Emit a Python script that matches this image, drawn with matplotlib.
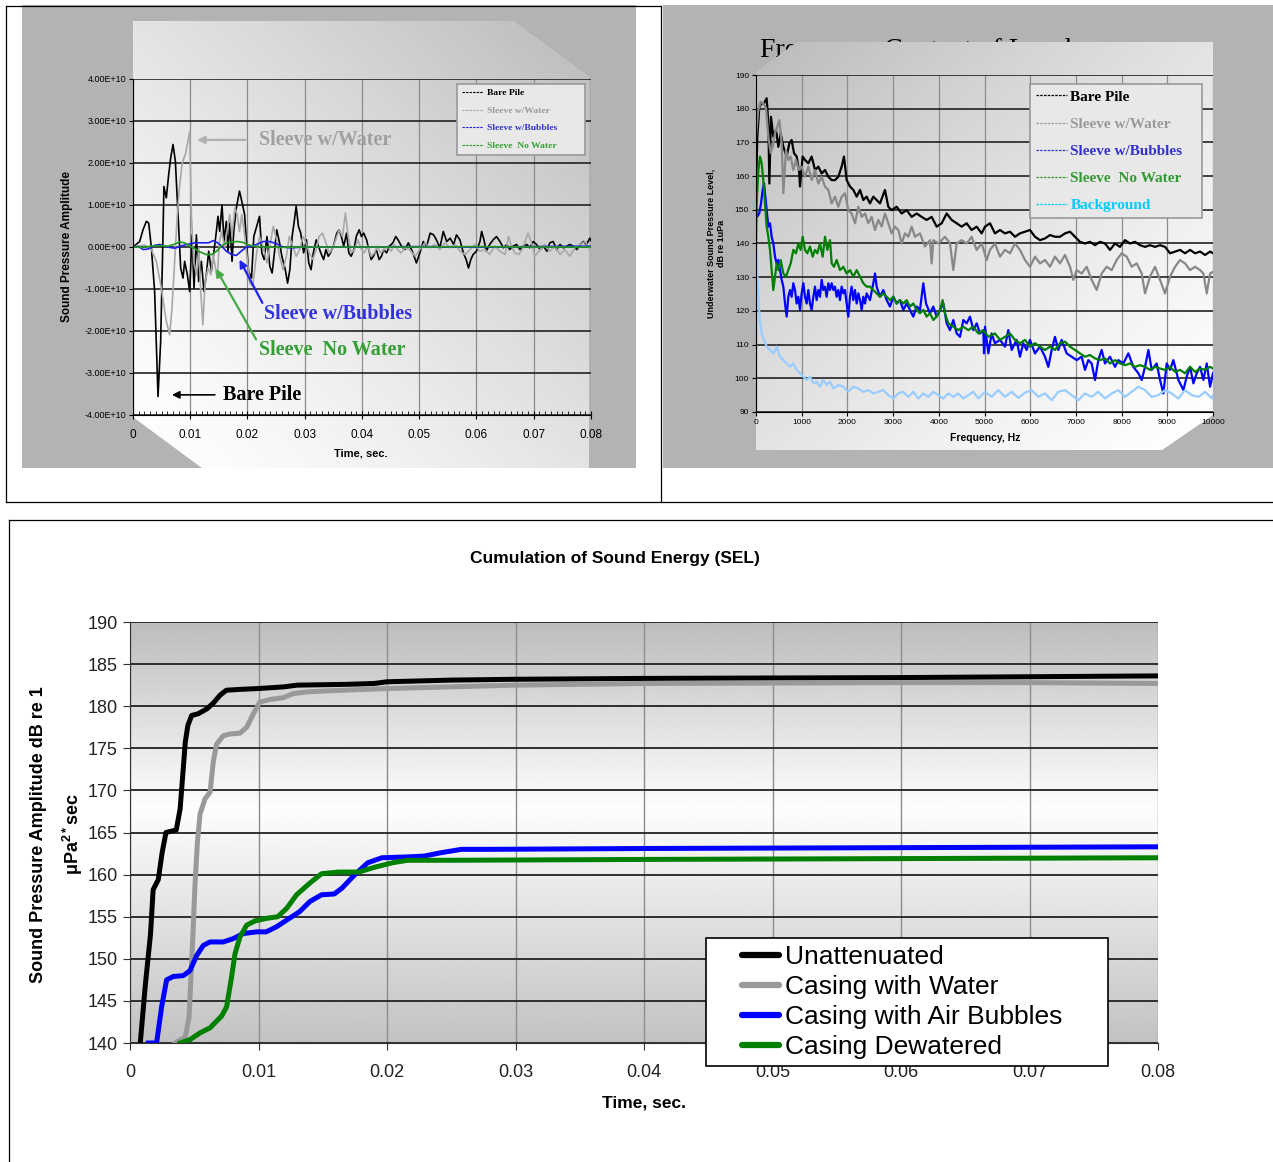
import numpy as np
import matplotlib.pyplot as plt
from matplotlib.patches import Polygon, Rectangle
from matplotlib.lines import Line2D
from matplotlib.legend_handler import HandlerLine2D
from matplotlib.ticker import FuncFormatter, MultipleLocator

plt.rcParams['font.family'] = ['Liberation Sans', 'DejaVu Sans']
plt.rcParams['mathtext.fontset'] = 'custom'
plt.rcParams['mathtext.bf'] = 'Liberation Sans:bold'
plt.rcParams['mathtext.rm'] = 'Liberation Sans'

W, H = 1273, 1162

# ---------------- top left: pressure time history (ms, x1E10) ----------------
sig_names = ['Bare Pile', 'Sleeve w/Water', 'Sleeve w/Bubbles', 'Sleeve  No Water']
sig_colors = ['#000000', '#a8a8a8', '#2020ee', '#229922']
sig_text_colors = ['#000000', '#999999', '#3333cc', '#33a033']

bare_t = [0, 1.16, 1.75, 2.33, 2.74, 3.2, 3.78, 4.37, 4.83, 5.24, 5.4, 5.82, 6.23, 6.58, 6.99, 7.4,
          7.86, 8.33, 8.73, 9.02, 9.49, 9.9, 10.3, 10.66, 11.07, 11.47, 11.94, 12.4, 12.81, 13.22,
          13.69, 14.15, 14.56, 14.85, 15.14, 15.55, 15.9, 16.3, 16.6, 16.9, 17.3, 17.6, 18.05, 18.6,
          19.0, 19.5, 19.8, 20.2, 20.7, 21.1, 21.6, 22.1, 22.5, 22.9, 23.4, 23.9, 24.3, 24.7, 25.1,
          25.6, 26.0, 26.6, 27.0, 27.4, 27.8, 28.2, 28.5, 28.9, 29.3, 29.8, 30.3, 30.7, 31.1, 31.5,
          32.0, 32.4, 32.8, 33.3, 33.7, 34.1, 34.5, 35.0, 35.6, 36.0, 36.4, 36.8, 37.3, 37.7, 38.1,
          38.6, 39.0, 39.5, 39.9, 40.3, 40.8, 41.2, 41.6, 42.0, 42.5, 43.0, 43.4, 43.8, 44.3, 44.8,
          45.4, 45.9, 46.3, 46.9, 47.5, 48.1, 48.9, 49.5, 50.1, 50.7, 51.3, 51.9, 52.5, 53.0, 53.6,
          54.2, 54.8, 55.4, 56.0, 56.5, 57.1, 57.7, 58.2, 58.6, 59.0, 59.4, 60.0, 60.6, 60.9, 61.3,
          61.7, 62.3, 62.9, 63.5, 64.1, 64.7, 65.3, 65.8, 66.4, 67.0, 67.6, 68.2, 68.8, 69.3, 69.9,
          70.5, 71.1, 71.7, 72.3, 72.8, 73.4, 74.0, 74.6, 75.2, 75.8, 76.3, 76.9, 77.5, 78.1, 78.7,
          79.2, 79.8, 80.0]
bare_a = [0, 0.13, 0.41, 0.61, 0.57, 0.0, -1.06, -3.56, -2.25, 0.3, 1.44, 1.17, 1.72, 2.12, 2.44, 2.04,
          0.77, -0.5, -0.74, -0.34, -0.66, -1.06, 0.29, -0.98, 0.29, -0.82, -0.34, -1.06, -0.66, -0.1,
          -0.58, -0.1, 0.37, 0.73, 0.37, 1.0, 0.13, 0.61, -0.1, 0.57, -0.34, 0.37, 0.93, 1.33,
          1.09, 0.77, 0.13, -0.58, -0.74, 0.25, 0.49, 0.73, -0.14, -0.3, 0.25, -0.46, -0.62, -0.14, 0.41,
          0.1, -0.22, -0.54, -0.86, -0.54, 0.25, 0.65, 0.97, 0.49, 0.33, -0.14, 0.17, -0.38, -0.54, -0.14,
          0.17, 0.02, -0.14, -0.3, -0.06, -0.22, -0.14, 0.02, 0.33, 0.41, 0.25, 0.02, 0.33, -0.14, -0.22,
          -0.06, 0.25, 0.41, 0.25, 0.33, 0.17, -0.06, -0.3, -0.22, -0.06, -0.3, -0.22, -0.06, -0.14, 0.02,
          0.1, 0.25, 0.17, 0.02, -0.06, 0.1, -0.14, -0.38, -0.14, 0.13, 0.02, 0.33, 0.29, 0.17, -0.02,
          0.37, 0.13, 0.21, 0.06, 0.29, 0.17, -0.14, -0.3, -0.5, -0.3, -0.18, -0.1, 0.13, 0.37, 0.17,
          -0.1, 0.06, 0.17, 0.25, 0.13, -0.02, 0.06, -0.06, 0.02, 0.06, -0.06, 0.02, 0.06, -0.02, 0.13,
          0.06, -0.06, 0.02, -0.1, 0.1, 0.13, -0.06, 0.06, -0.02, 0.02, 0.06, 0.02, -0.06, 0.06, 0.13,
          0.06, 0.21, 0.15]

water_t = [0, 1.98, 3.2, 4.08, 4.95, 5.82, 6.4, 6.81, 7.28, 7.74, 8.15, 8.56, 8.9, 9.14, 9.49, 9.9,
           10.2, 10.6, 11.1, 11.5, 11.8, 12.2, 12.6, 13.1, 13.6, 14.0, 14.4, 14.7, 15.1, 15.5, 16.0,
           16.5, 16.9, 17.3, 17.8, 18.2, 18.6, 19.0, 19.5, 20.0, 20.4, 20.9, 21.6, 22.1, 22.7, 23.4,
           23.9, 24.5, 25.1, 25.6, 26.2, 26.8, 27.3, 27.9, 28.5, 29.1, 29.7, 30.2, 30.8, 31.4, 32.0,
           32.5, 33.1, 33.7, 34.3, 34.8, 35.4, 36.0, 36.6, 37.1, 37.6, 38.1, 38.7, 39.3, 39.9, 40.4,
           41.0, 41.6, 42.2, 42.7, 43.3, 43.9, 44.5, 45.1, 45.6, 46.2, 46.8, 47.5, 48.3, 49.3, 50.1,
           51.0, 51.8, 52.7, 53.6, 54.5, 55.4, 56.3, 57.1, 58.0, 58.9, 59.7, 60.6, 61.5, 62.3, 63.2,
           64.1, 65.0, 65.6, 66.1, 66.7, 67.4, 68.1, 69.0, 69.6, 70.2, 71.1, 71.9, 72.8, 73.7, 74.6,
           75.4, 76.3, 77.2, 78.1, 79.0, 79.8]
water_a = [0, 0.05, -0.06, -0.34, -0.98, -1.77, -2.09, -1.45, -0.34, 0.77, 1.48, 1.96, 2.12, 2.2, 2.44, 2.75,
           0.77, -0.34, -0.66, -0.02, -0.98, -1.85, -0.82, -0.5, -0.66, -0.18, -0.5, -0.74, 0.13, 0.37, -0.02,
           0.45, 0.77, 0.29, 0.93, 0.77, 0.37, 0.77, 0.29, -0.34, -0.86, -0.94, -0.14, 0.25, 0.02, -0.38,
           0.02, 0.49, 0.17, -0.22, -0.54, -0.22, 0.25, 0.02, -0.22, -0.06, 0.25, 0.1, -0.14, -0.3, -0.06,
           0.25, 0.33, 0.1, -0.14, -0.06, 0.17, 0.41, 0.25, 0.81, 0.25, -0.14, -0.06, 0.17, -0.06, -0.14,
           0.02, -0.22, -0.14, 0.02, -0.14, -0.06, 0.02, -0.1, 0.06, -0.06, -0.14, -0.02, -0.06, -0.22, -0.06,
           0.1, -0.02, 0.06, -0.06, 0.1, -0.02, 0.06, -0.1, -0.18, -0.06, 0.06, -0.1, -0.06, -0.18, 0.02,
           -0.1, -0.18, 0.25, 0.02, -0.14, -0.18, -0.02, 0.33, 0.1, -0.22, -0.06, 0.06, -0.1, 0.02, -0.18,
           -0.06, -0.22, -0.02, 0.06, 0.13, -0.06]

bubble_t = [0, 1.0, 1.75, 2.6, 3.8, 4.7, 5.5, 6.4, 7.3, 8.3, 9.4, 10.8, 12.0, 13.2, 14.0, 14.8, 15.5,
            16.3, 17.2, 18.05, 18.9, 19.8, 20.7, 21.6, 22.7, 23.9, 25.0, 26.2, 27.5, 30, 40, 50, 60, 70, 80]
bubble_a = [0, 0.01, -0.06, -0.05, 0.04, 0.06, 0.02, -0.01, -0.03, 0.02, 0.06, 0.1, 0.1, 0.1, 0.15, 0.1, 0.02,
            -0.1, -0.18, -0.2, -0.1, 0.0, 0.02, 0.06, 0.13, 0.13, 0.08, 0.0, -0.02, 0.0, 0.0, 0.01, 0.0, 0.01, 0.02]

nowater_t = [0, 1.4, 3.2, 4.9, 6.1, 7.3, 8.15, 9.0, 9.9, 10.8, 11.4, 12.8, 13.7, 14.6, 15.4, 16.3, 17.2,
             18.3, 19.2, 20.0, 21.0, 23, 26, 30, 40, 50, 60, 70, 80]
nowater_a = [0, -0.01, 0.02, 0.03, 0.02, 0.07, 0.12, 0.1, 0.02, -0.04, -0.1, -0.18, -0.18, -0.1, 0.02, 0.1, 0.12,
             0.13, 0.11, 0.06, 0.02, 0.0, -0.01, 0.0, 0.0, 0.0, 0.01, 0.0, 0.0]

# ---------------- top right: frequency content (Hz, dB re 1uPa) ----------------
spec_names = ['Bare Pile', 'Sleeve w/Water', 'Sleeve w/Bubbles', 'Sleeve  No Water', 'Background']
spec_colors = ['#000000', '#888888', '#0000ff', '#008000', '#99ccff']
spec_text_colors = ['#000000', '#999999', '#3333cc', '#339933', '#00ccff']

bare_f = [0, 29, 73, 124, 175, 233, 270, 292, 328, 379, 438, 489, 540, 598, 671, 729, 780, 832, 890, 948,
          963, 1021, 1072, 1145, 1218, 1291, 1364, 1437, 1510, 1583, 1656, 1728, 1801, 1874, 1925, 1984,
          2057, 2130, 2203, 2276, 2348, 2421, 2494, 2567, 2640, 2713, 2822, 2895, 2968, 3078, 3187, 3296,
          3406, 3515, 3625, 3734, 3844, 3953, 4063, 4172, 4281, 4391, 4500, 4609, 4719, 4828, 4938, 5011,
          5120, 5229, 5339, 5448, 5558, 5667, 5776, 5886, 5995, 6105, 6214, 6324, 6433, 6542, 6652, 6761,
          6871, 6980, 7089, 7199, 7308, 7418, 7527, 7637, 7746, 7856, 7965, 8075, 8184, 8294, 8403, 8513,
          8622, 8732, 8841, 8951, 9060, 9170, 9279, 9388, 9498, 9607, 9717, 9827, 9936, 10000]
bare_db = [157, 171.7, 180.6, 181.6, 181.6, 183.1, 175.7, 157.8, 177.6, 171.7, 173.7, 168.7, 172.7, 168.7,
           165.8, 169.7, 170.7, 166.8, 165.8, 160.8, 156.9, 165.8, 164.8, 163.8, 165.8, 161.8, 162.8, 160.8,
           161.8, 159.8, 158.8, 158.8, 159.8, 162.8, 165.8, 158.8, 156.9, 155.9, 153.9, 155.9, 152.9, 153.9,
           151.9, 153.9, 152.9, 151.9, 155.9, 150.9, 149.9, 150.9, 148.9, 149.9, 147.9, 148.9, 147.9, 147.0,
           147.9, 145.0, 146.0, 148.9, 147.0, 146.0, 145.0, 146.0, 144.0, 145.0, 143.0, 145.0, 146.0, 143.0,
           144.0, 143.0, 143.5, 142.0, 143.0, 143.5, 144.0, 142.0, 141.0, 141.5, 142.5, 142.0, 142.0, 143.0,
           143.5, 142.0, 140.5, 140.0, 140.5, 139.5, 140.5, 140.0, 138.1, 140.0, 139.0, 141.0, 140.0, 140.5,
           139.5, 139.0, 139.5, 139.0, 139.5, 139.0, 137.1, 137.6, 138.1, 137.1, 138.1, 137.1, 137.6, 136.6,
           137.6, 137.1]

water_f = [0, 51, 102, 160, 219, 270, 321, 365, 416, 467, 511, 562, 598, 656, 707, 759, 817, 875, 934, 999,
           1072, 1145, 1218, 1291, 1364, 1437, 1510, 1583, 1656, 1728, 1801, 1874, 1947, 2020, 2093, 2166,
           2240, 2313, 2385, 2458, 2531, 2604, 2676, 2749, 2822, 2895, 2968, 3041, 3114, 3187, 3260, 3333,
           3406, 3479, 3588, 3697, 3807, 3844, 3880, 3990, 4136, 4245, 4318, 4391, 4500, 4609, 4719, 4828,
           4938, 5047, 5120, 5229, 5339, 5448, 5558, 5667, 5776, 5886, 5995, 6105, 6214, 6324, 6433, 6542,
           6652, 6761, 6871, 6944, 7017, 7126, 7236, 7345, 7455, 7564, 7673, 7783, 7892, 8002, 8111, 8221,
           8330, 8440, 8513, 8622, 8732, 8841, 8951, 9060, 9170, 9279, 9388, 9498, 9607, 9717, 9790, 9863,
           9936, 10000]
water_db = [171.7, 179.6, 182.1, 181.6, 180.1, 171.7, 166.8, 168.7, 172.7, 174.7, 176.6, 169.7, 154.9, 167.7,
            164.8, 165.8, 161.8, 164.8, 161.8, 162.8, 159.8, 162.8, 158.8, 161.8, 157.8, 159.8, 156.9, 155.9,
            151.9, 153.9, 150.9, 153.9, 154.9, 149.9, 148.9, 146.0, 150.9, 147.9, 148.9, 146.0, 147.9, 144.0,
            147.0, 145.0, 148.9, 146.0, 143.0, 145.0, 144.0, 140.0, 143.0, 142.0, 145.0, 142.0, 143.0, 139.1,
            141.0, 134.1, 141.0, 140.0, 142.0, 140.0, 132.1, 140.0, 141.0, 140.0, 142.0, 138.1, 140.0, 135.1,
            138.1, 140.0, 136.1, 138.1, 137.1, 140.0, 138.1, 135.1, 133.1, 136.1, 134.1, 135.1, 133.1, 136.1,
            134.1, 136.6, 133.1, 129.2, 132.1, 131.1, 133.1, 129.2, 126.2, 131.1, 133.1, 132.1, 135.1, 137.1,
            136.1, 133.1, 134.1, 131.1, 125.2, 130.2, 133.1, 129.2, 125.2, 130.2, 133.1, 135.1, 134.1, 132.1,
            133.1, 132.1, 131.1, 125.2, 131.1, 131.6]

bubble_f = [0, 29, 73, 110, 146, 175, 204, 233, 270, 306, 343, 379, 416, 452, 489, 525, 562, 598, 635, 671,
            707, 744, 780, 817, 853, 890, 926, 963, 999, 1036, 1072, 1109, 1145, 1181, 1218, 1255, 1291,
            1327, 1364, 1400, 1437, 1473, 1510, 1546, 1583, 1619, 1656, 1692, 1728, 1765, 1801, 1838, 1874,
            1911, 1947, 1984, 2020, 2057, 2093, 2130, 2166, 2203, 2240, 2276, 2313, 2348, 2385, 2421, 2494,
            2567, 2604, 2640, 2713, 2786, 2859, 2932, 3005, 3078, 3150, 3223, 3296, 3369, 3442, 3515, 3588,
            3661, 3720, 3807, 3880, 3953, 4026, 4099, 4172, 4245, 4318, 4391, 4464, 4537, 4610, 4683, 4756,
            4829, 4902, 4974, 4990, 5011, 5084, 5156, 5229, 5339, 5448, 5521, 5594, 5703, 5776, 5849, 5922,
            5995, 6105, 6214, 6324, 6397, 6470, 6542, 6615, 6688, 6798, 6907, 7017, 7126, 7199, 7272, 7345,
            7418, 7491, 7564, 7637, 7746, 7856, 7929, 8038, 8148, 8257, 8367, 8440, 8513, 8586, 8659, 8768,
            8841, 8914, 8987, 9060, 9133, 9243, 9352, 9425, 9498, 9571, 9644, 9717, 9790, 9863, 9936, 10000]
bubble_db = [150, 148, 149, 151.9, 155.9, 157.9, 153.9, 149.9, 145.0, 146.0, 142.0, 140.0, 136.1, 134.1, 135.1,
             132.1, 129.2, 127.2, 122.2, 118.3, 124.2, 126.2, 124.2, 128.2, 126.2, 122.2, 124.2, 120.3, 125.2,
             128.2, 124.2, 122.2, 126.2, 122.2, 120.3, 124.2, 127.2, 123.2, 126.2, 124.2, 129.2, 126.2, 127.2,
             124.2, 128.2, 126.2, 128.2, 126.2, 127.2, 124.2, 126.2, 123.2, 127.2, 125.2, 126.2, 122.2, 118.3,
             124.2, 127.2, 123.2, 126.2, 122.2, 125.2, 123.2, 120.3, 124.2, 122.2, 125.2, 123.2, 128.2, 131.1,
             127.2, 124.2, 126.2, 123.2, 121.3, 124.2, 122.2, 123.2, 120.3, 122.2, 120.3, 118.3, 121.3, 120.3,
             128.2, 122.2, 119.3, 121.3, 118.3, 120.3, 122.2, 116.3, 114.3, 117.3, 113.3, 112.3, 117.3, 116.3,
             118.3, 114.3, 116.3, 113.3, 114.3, 107.4, 115.3, 107.4, 113.3, 110.4, 111.4, 109.4, 114.3, 108.4,
             111.4, 106.4, 110.4, 108.4, 111.4, 107.4, 109.4, 106.4, 103.4, 108.4, 112.3, 108.4, 111.4, 107.4,
             106.4, 105.4, 106.4, 102.5, 105.4, 104.4, 99.5, 105.4, 108.4, 104.4, 106.4, 103.4, 105.4, 104.4,
             107.4, 103.4, 101.5, 99.5, 103.4, 108.4, 102.5, 104.4, 99.5, 95.5, 104.4, 102.5, 105.4, 99.5,
             96.5, 100.5, 103.4, 98.5, 101.5, 103.4, 99.5, 104.4, 97.5, 101.5]

nowater_f = [0, 15, 51, 87, 124, 160, 197, 233, 270, 306, 343, 379, 416, 452, 489, 540, 598, 656, 707, 759,
             817, 875, 926, 977, 1021, 1072, 1123, 1181, 1240, 1291, 1342, 1400, 1459, 1510, 1561, 1619, 1656,
             1707, 1765, 1838, 1911, 1984, 2057, 2130, 2203, 2276, 2348, 2421, 2494, 2567, 2640, 2713, 2786,
             2859, 2932, 3005, 3078, 3150, 3223, 3296, 3369, 3442, 3515, 3588, 3661, 3734, 3807, 3880, 3953,
             4026, 4084, 4136, 4208, 4318, 4427, 4537, 4646, 4756, 4865, 4974, 5084, 5229, 5339, 5448, 5558,
             5667, 5776, 5886, 5995, 6105, 6214, 6324, 6433, 6542, 6652, 6761, 6871, 6980, 7089, 7199, 7308,
             7418, 7527, 7637, 7746, 7856, 7965, 8075, 8184, 8294, 8403, 8513, 8622, 8732, 8841, 8951, 9060,
             9170, 9279, 9388, 9498, 9607, 9717, 9827, 9936, 10000]
nowater_db = [140, 151.9, 161.8, 165.8, 163.8, 158.8, 151.9, 145.0, 142.0, 138.1, 132.1, 126.2, 130.2, 134.1,
              132.1, 135.1, 131.1, 130.2, 132.1, 134.1, 138.1, 137.1, 140.0, 138.1, 142.0, 138.1, 137.1, 139.1,
              136.1, 138.1, 137.1, 140.0, 136.1, 142.0, 138.1, 141.0, 134.1, 133.1, 135.1, 132.1, 133.1, 131.1,
              132.1, 130.2, 132.1, 130.2, 128.2, 127.2, 127.2, 126.2, 125.2, 124.2, 125.2, 124.2, 123.2, 124.2,
              122.2, 123.2, 122.2, 123.2, 121.3, 122.2, 120.3, 119.3, 120.3, 118.3, 119.3, 117.3, 118.3, 120.3,
              123.2, 119.3, 116.3, 115.3, 114.3, 115.3, 114.3, 115.3, 113.3, 114.3, 112.3, 113.3, 111.4, 112.3,
              113.3, 111.4, 110.4, 111.4, 109.4, 110.4, 109.4, 108.4, 109.4, 108.4, 110.4, 110.9, 109.4, 108.4,
              107.4, 106.4, 106.9, 105.9, 105.4, 105.9, 104.4, 105.4, 104.4, 103.9, 104.4, 103.4, 103.9, 103.4,
              102.5, 103.4, 102.9, 102.5, 103.4, 101.9, 102.5, 101.5, 103.4, 101.9, 102.9, 102.5, 103.4, 102.9]

backgr_f = [0, 7, 29, 58, 87, 124, 175, 233, 306, 379, 452, 525, 598, 671, 744, 817, 890, 963, 1036, 1109,
            1181, 1255, 1327, 1400, 1473, 1546, 1619, 1692, 1801, 1911, 2020, 2130, 2240, 2348, 2458, 2567,
            2676, 2786, 2895, 3005, 3114, 3223, 3333, 3442, 3552, 3661, 3771, 3880, 3990, 4099, 4208, 4318,
            4427, 4537, 4646, 4756, 4865, 4974, 5011, 5156, 5302, 5448, 5594, 5740, 5886, 6032, 6178, 6324,
            6470, 6615, 6761, 6907, 7053, 7199, 7345, 7491, 7637, 7783, 7929, 8075, 8221, 8367, 8513, 8659,
            8805, 8951, 9097, 9243, 9388, 9534, 9680, 9827, 9973, 10000]
backgr_db = [90, 138.1, 130.2, 122.2, 117.3, 113.3, 111.4, 109.4, 108.4, 107.4, 109.4, 106.4, 105.4, 104.4,
             103.4, 104.4, 102.5, 101.5, 100.5, 99.5, 100.5, 98.5, 99.0, 97.5, 99.5, 98.0, 99.0, 97.0, 98.0,
             97.5, 96.0, 97.5, 97.0, 96.0, 96.5, 95.5, 96.0, 96.5, 95.0, 94.0, 95.5, 96.0, 94.5, 96.0, 94.0,
             95.5, 94.5, 96.0, 95.0, 94.0, 95.5, 94.5, 95.5, 94.0, 95.0, 96.0, 94.0, 95.5, 96.0, 94.5, 96.5,
             94.5, 96.0, 94.2, 95.7, 96.5, 94.5, 95.5, 93.5, 96.0, 96.5, 95.0, 93.5, 95.5, 94.5, 96.0, 94.0,
             95.5, 96.5, 94.5, 96.0, 97.5, 96.5, 94.5, 95.0, 96.5, 95.5, 94.0, 96.5, 95.0, 94.5, 96.0, 94.0,
             95.0]

# ---------------- bottom: cumulative SEL (ms, dB) ----------------
sel_names = ['Unattenuated', 'Casing with Water', 'Casing with Air Bubbles', 'Casing Dewatered']
sel_colors = ['#000000', '#999999', '#0000ff', '#008000']

unatt_t = [0.8, 1.2, 1.6, 1.8, 2.2, 2.5, 2.8, 3.6, 3.9, 4.1, 4.3, 4.5, 4.8, 5.3, 6.0, 6.5, 7.0, 7.5, 8.6,
           10.0, 12.0, 13.0, 17.0, 19.0, 20.0, 25.0, 30.0, 40.0, 50.0, 60.0, 70.0, 80.0]
unatt_db = [140, 147, 153, 158.2, 159.4, 162.6, 165.0, 165.3, 167.8, 171.7, 175.7, 177.7, 178.9, 179.1, 179.7,
            180.4, 181.3, 181.9, 182.0, 182.1, 182.3, 182.5, 182.6, 182.7, 182.9, 183.1, 183.2, 183.3, 183.35,
            183.4, 183.5, 183.6]

casew_t = [3.5, 4.3, 4.6, 4.9, 5.06, 5.24, 5.45, 5.84, 6.23, 6.49, 6.74, 7.26, 7.78, 8.56, 9.08, 9.6, 10.1,
           10.9, 11.9, 12.7, 13.8, 15.0, 20.0, 30.0, 40.0, 50.0, 60.0, 70.0, 80.0]
casew_db = [140, 140.7, 143.1, 153, 158.9, 163.7, 167.2, 169.0, 169.8, 173.5, 175.5, 176.5, 176.7, 176.8, 177.5,
            179.1, 180.5, 180.8, 181.0, 181.5, 181.7, 181.8, 182.1, 182.5, 182.7, 182.75, 182.8, 182.8, 182.7]

caseb_t = [1.43, 2.07, 2.46, 2.85, 3.37, 4.15, 4.67, 5.19, 5.71, 6.23, 7.26, 8.04, 8.82, 9.86, 10.6, 11.4, 12.2,
           13.2, 14.0, 14.9, 15.9, 16.5, 17.5, 18.5, 19.6, 21.6, 22.9, 24.2, 25.8, 28.0, 40, 60, 80]
caseb_db = [140, 140, 144.3, 147.5, 147.9, 148.0, 148.6, 150.4, 151.6, 152.0, 152.0, 152.4, 153.0, 153.2, 153.2,
            153.8, 154.6, 155.6, 156.8, 157.6, 157.7, 158.4, 160.0, 161.4, 162.0, 162.1, 162.2, 162.6, 163.0,
            163.0, 163.1, 163.2, 163.3]

cased_t = [3.9, 4.67, 5.45, 6.23, 6.61, 7.13, 7.52, 7.91, 8.17, 8.56, 9.08, 9.73, 10.6, 11.5, 12.2, 12.96, 14.0,
           14.9, 16.2, 17.8, 19.1, 20.4, 21.6, 24.8, 40, 60, 80]
cased_db = [140, 140.4, 141.2, 141.8, 142.4, 143.2, 144.3, 147.9, 150.6, 152.6, 154.0, 154.5, 154.8, 155.0, 156.0,
            157.6, 159.0, 160.1, 160.3, 160.3, 160.9, 161.4, 161.7, 161.7, 161.8, 161.9, 162.0]


class OffsetLine(HandlerLine2D):
    # legend handle drawn only in the right part of the handle box
    def get_xdata(self, legend, xdescent, ydescent, width, height, fontsize):
        x0 = -xdescent + 0.43 * width
        return [x0, -xdescent + width], [x0]


fig = plt.figure(figsize=(W / 100, H / 100), dpi=100)

# background canvas in pixel units
bg = fig.add_axes([0, 0, 1, 1])
bg.axis('off')


def shaded_panel(pts, corner):
    xs = [p[0] for p in pts]
    ys = [p[1] for p in pts]
    gx, gy = np.meshgrid(np.linspace(0, 1, 200), np.linspace(0, 1, 200))
    if corner == 'tr':
        s = (gx + 1 - gy) / 2
    else:
        s = (2 - gx - gy) / 2
    img = 1.0 - 0.27 * s ** 1.3
    poly = Polygon(pts, closed=True, fc='#dddddd', ec='none', zorder=2)
    bg.add_patch(poly)
    im = bg.imshow(img, cmap='gray', vmin=0, vmax=1, extent=(min(xs), max(xs), max(ys), min(ys)),
                   origin='upper', aspect='auto', zorder=3, interpolation='bilinear')
    im.set_clip_path(poly)


bg.add_patch(Rectangle((22, 5), 614, 463, fc='#b3b3b3', ec='none', zorder=0))
bg.add_patch(Rectangle((663, 5), 610, 463, fc='#b3b3b3', ec='none', zorder=0))
bg.text(760, 57, 'Frequency Content of Level', fontsize=20, family='Liberation Serif', zorder=1)
shaded_panel([(133, 21), (513, 21), (589, 77), (589, 468), (202, 468), (133, 417)], 'tr')
shaded_panel([(756, 73), (797, 42), (1213, 42), (1213, 415), (1162, 450), (756, 450)], 'tl')

frame = dict(color='black', lw=0.9, zorder=4)
bg.plot([6, 661], [6, 6], **frame)
bg.plot([6, 6], [6, 502], **frame)
bg.plot([661, 661], [6, 502], **frame)
bg.plot([6, W], [502, 502], **frame)
bg.plot([9, W], [520, 520], **frame)
bg.plot([9, 9], [520, H], **frame)
bg.set_xlim(0, W)
bg.set_ylim(H, 0)

# ---------------- top left chart ----------------
ax1 = fig.add_axes([133 / W, 1 - 415 / H, 458 / W, 336 / H])
ax1.set_facecolor('none')
sig_series = [(bare_t, bare_a), (water_t, water_a), (bubble_t, bubble_a), (nowater_t, nowater_a)]
for (t, a), c in zip(sig_series, sig_colors):
    ax1.plot(np.array(t) / 1000, np.array(a) * 1e10, color=c, lw=1.2)
ax1.set_xlim(0, 0.08)
ax1.set_ylim(-4e10, 4e10)
ax1.set_xticks(np.arange(0, 0.081, 0.01))
ax1.set_xticklabels(['0', '0.01', '0.02', '0.03', '0.04', '0.05', '0.06', '0.07', '0.08'])
ax1.xaxis.set_minor_locator(MultipleLocator(0.001))
ax1.set_yticks(np.arange(-4e10, 4.01e10, 1e10))
ax1.yaxis.set_major_formatter(FuncFormatter(lambda v, p: f'{v:.2E}'))
ax1.yaxis.grid(True, color='#222222', lw=1.2)
ax1.xaxis.grid(True, color='#8c8c8c', lw=0.9)
ax1.set_axisbelow(True)
for s in ['top', 'right']:
    ax1.spines[s].set_visible(False)
ax1.spines['left'].set_color('black')
ax1.spines['bottom'].set_color('black')
ax1.tick_params(axis='y', labelsize=6.5, length=3, pad=2)
ax1.tick_params(axis='x', which='major', labelsize=8.5, length=6, direction='inout', pad=7)
ax1.tick_params(axis='x', which='minor', length=3, direction='in')
ax1.set_ylabel('Sound Pressure Amplitude', fontsize=8.5, fontweight='bold')
ax1.yaxis.set_label_coords(-0.131, 0.5)
ax1.set_xlabel('Time, sec.', fontsize=8, fontweight='bold')
ax1.xaxis.set_label_coords(0.498, -0.1)

h1 = [Line2D([], [], color=c, lw=0.8, ls=(0, (2.2, 1.0))) for c in sig_colors]
leg1 = ax1.legend(h1, sig_names, loc='upper left',
                  bbox_to_anchor=((457 - 133) / 458, (415 - 158) / 336, 128 / 458, 74 / 336),
                  mode='expand', prop={'family': 'Liberation Serif', 'weight': 'bold', 'size': 6.8},
                  fancybox=False, facecolor='#e8e8e8', edgecolor='#999999', framealpha=1,
                  handlelength=2.3, handletextpad=0.4, labelspacing=0.95, borderpad=0.5, borderaxespad=0)
leg1.get_frame().set_linewidth(1.2)
for txt, c in zip(leg1.get_texts(), sig_text_colors):
    txt.set_color(c)

serif_big = {'family': 'Liberation Serif', 'weight': 'bold', 'size': 14.5}
arrow = dict(arrowstyle='-|>', lw=1.6, mutation_scale=11, shrinkA=0, shrinkB=0)
ax1.annotate('', xy=(0.0112, 2.55e10), xytext=(0.0196, 2.55e10),
             arrowprops=dict(arrow, color='#b0b0b0'))
ax1.text(0.022, 2.55e10, 'Sleeve w/Water', color='#a0a0a0', va='center', **serif_big)
ax1.annotate('', xy=(0.0186, -0.30e10), xytext=(0.0226, -1.33e10),
             arrowprops=dict(arrow, color='#2222ee'))
ax1.text(0.0229, -1.59e10, 'Sleeve w/Bubbles', color='#3333dd', va='center', **serif_big)
ax1.annotate('', xy=(0.0145, -0.52e10), xytext=(0.0215, -2.2e10),
             arrowprops=dict(arrow, color='#44aa44'))
ax1.text(0.022, -2.45e10, 'Sleeve  No Water', color='#33a033', va='center', **serif_big)
ax1.annotate('', xy=(0.0068, -3.52e10), xytext=(0.0143, -3.52e10),
             arrowprops=dict(arrow, color='black', lw=1.2))
ax1.text(0.0157, -3.52e10, 'Bare Pile', color='black', va='center', **serif_big)

# ---------------- top right chart ----------------
ax2 = fig.add_axes([756 / W, 1 - 412 / H, 457 / W, 337 / H])
ax2.set_facecolor('none')
spec_series = [(bare_f, bare_db), (water_f, water_db), (bubble_f, bubble_db),
               (nowater_f, nowater_db), (backgr_f, backgr_db)]
for (f, d), c in zip(spec_series, spec_colors):
    ax2.plot(f, d, color=c, lw=1.6)
ax2.set_xlim(0, 10000)
ax2.set_ylim(90, 190)
ax2.set_xticks(np.arange(0, 10001, 1000))
ax2.set_yticks(np.arange(90, 191, 10))
ax2.yaxis.grid(True, color='#222222', lw=1.2)
ax2.xaxis.grid(True, color='#8c8c8c', lw=0.9)
ax2.set_axisbelow(True)
for s in ['top', 'right']:
    ax2.spines[s].set_visible(False)
ax2.tick_params(labelsize=6, length=3, pad=2)
ax2.set_ylabel('Underwater Sound Pressure Level,\ndB re 1uPa', fontsize=6.5, fontweight='bold',
               linespacing=1.2)
ax2.yaxis.set_label_coords(-0.066, 0.5)
ax2.set_xlabel('Frequency, Hz', fontsize=7.5, fontweight='bold')
ax2.xaxis.set_label_coords(0.501, -0.062)

h2 = [Line2D([], [], color=c, lw=0.9, ls=(0, (2.0, 1.0))) for c in spec_text_colors]
leg2 = ax2.legend(h2, spec_names, loc='upper left',
                  bbox_to_anchor=((1030 - 756) / 457, (412 - 219) / 337, 172 / 457, 135 / 337),
                  mode='expand', prop={'family': 'Liberation Serif', 'weight': 'bold', 'size': 11},
                  fancybox=False, facecolor='#e8e8e8', edgecolor='#999999', framealpha=1,
                  handlelength=2.0, handletextpad=0.25, labelspacing=0.88, borderpad=0.4, borderaxespad=0)
leg2.get_frame().set_linewidth(1.2)
for txt, c in zip(leg2.get_texts(), spec_text_colors):
    txt.set_color(c)

# ---------------- bottom chart ----------------
ax3 = fig.add_axes([130 / W, 1 - 1043 / H, 1028 / W, 421 / H])
shade = np.interp(np.linspace(190, 140, 300), [140, 168, 190], [0.76, 0.995, 0.74])[:, None]
ax3.imshow(shade, cmap='gray', vmin=0, vmax=1, extent=(0, 0.08, 140, 190), aspect='auto', zorder=0)
sel_series = [(unatt_t, unatt_db), (casew_t, casew_db), (caseb_t, caseb_db), (cased_t, cased_db)]
for (t, d), c, n in zip(sel_series, sel_colors, sel_names):
    ax3.plot(np.array(t) / 1000, d, color=c, lw=3.6, label=n, solid_joinstyle='round')
ax3.set_xlim(0, 0.08)
ax3.set_ylim(140, 190)
ax3.set_xticks(np.arange(0, 0.081, 0.01))
ax3.set_xticklabels(['0', '0.01', '0.02', '0.03', '0.04', '0.05', '0.06', '0.07', '0.08'])
ax3.set_yticks(np.arange(140, 191, 5))
ax3.yaxis.grid(True, color='#222222', lw=1.3)
ax3.xaxis.grid(True, color='#8c8c8c', lw=1.0)
ax3.set_axisbelow(True)
for s in ['top', 'right']:
    ax3.spines[s].set_visible(False)
ax3.spines['left'].set_color('#333333')
ax3.spines['bottom'].set_color('#333333')
ax3.tick_params(labelsize=13, length=5, color='#333333', labelcolor='#222222')
ax3.tick_params(axis='x', pad=10)
ax3.tick_params(axis='y', pad=4)
ax3.set_ylabel('Sound Pressure Amplitude dB re 1\nμPa$^{\\mathbf{2*}}$sec', fontsize=13,
               fontweight='bold', linespacing=1.75)
ax3.yaxis.set_label_coords(-0.044, 0.496)
ax3.set_xlabel('Time, sec.', fontsize=12.5, fontweight='bold')
ax3.xaxis.set_label_coords(0.5, -0.124)
fig.text(615 / W, 1 - 558 / H, 'Cumulation of Sound Energy (SEL)', fontsize=12.5, fontweight='bold',
         ha='center', va='center')

leg3 = ax3.legend(loc='upper left', bbox_to_anchor=(706 / W, 1 - 1064 / H, 402 / W, 126 / H),
                  bbox_transform=fig.transFigure, mode='expand', fontsize=19,
                  handler_map={Line2D: OffsetLine()}, handlelength=2.5, handletextpad=0.2,
                  labelspacing=0.22, borderpad=0.28, borderaxespad=0, fancybox=False,
                  facecolor='white', edgecolor='black', framealpha=1)
leg3.get_frame().set_linewidth(1.2)
for ln in leg3.get_lines():
    ln.set_linewidth(4.5)
    ln.set_solid_capstyle('round')

fig.savefig('out.png', dpi=100, facecolor='white')
